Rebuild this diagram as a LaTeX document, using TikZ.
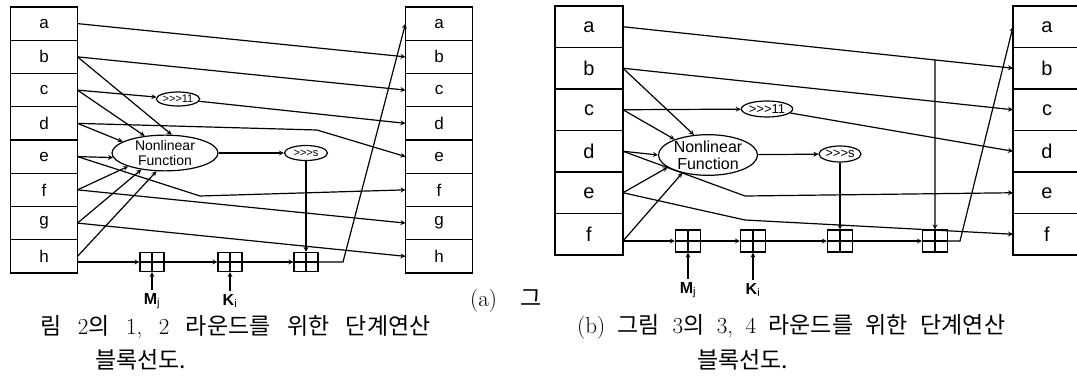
\documentclass[tikz,border=0pt]{standalone}
\usepackage{fontspec}
\setsansfont{Liberation Sans}
\newfontfamily\kr{Noto Sans CJK KR}
\newcommand{\capspace}[1]{\spaceskip #1\relax}
\usepackage{tikz}
\usetikzlibrary{positioning, arrows.meta, calc, shapes.geometric}
\tikzstyle{arrow} = [very thick,->,>=stealth]
\tikzstyle{reg} = [rectangle, draw, very thick, minimum width=67pt, minimum height=33.25pt, outer sep=0pt, node distance=33.25pt, font=\sffamily\fontsize{17}{17}\selectfont]
\tikzstyle{reg2} = [reg, minimum width=68pt, minimum height=41.5pt, node distance=41.5pt, font=\sffamily\fontsize{20}{20}\selectfont]
\tikzstyle{adder} = [rectangle, draw, very thick, minimum width=24pt, minimum height=19pt, inner sep=0pt, path picture={\draw[very thick] (path picture bounding box.north) -- (path picture bounding box.south) (path picture bounding box.west) -- (path picture bounding box.east);}]
\tikzstyle{func} = [ellipse, draw, very thick, inner sep=0pt, align=center, font=\sffamily\fontsize{14}{15}\selectfont]
\tikzstyle{rot} = [ellipse, draw, very thick, inner sep=0pt, font=\sffamily\fontsize{11}{11}\selectfont]
\tikzstyle{keylabel} = [font=\sffamily\bfseries\fontsize{16}{16}\selectfont]
\tikzstyle{captext} = [anchor=west, inner sep=0pt, font=\fontsize{23}{23}\selectfont\capspace{12.5pt}]

\begin{document}
\begin{tikzpicture}[x=1pt, y=-1pt]
        \useasboundingbox (0,0) rectangle (1077,383);

        \node (left_a) [reg] at (44,23.6) {a};
        \node (left_b) [reg, below of=left_a] {b};
        \node (left_c) [reg, below of=left_b] {c};
        \node (left_d) [reg, below of=left_c] {d};
        \node (left_e) [reg, below of=left_d] {e};
        \node (left_f) [reg, below of=left_e] {f};
        \node (left_g) [reg, below of=left_f] {g};
        \node (left_h) [reg, below of=left_g] {h};

        \node (right_a) [reg] at (439,23.6) {a};
        \node (right_b) [reg, below of=right_a] {b};
        \node (right_c) [reg, below of=right_b] {c};
        \node (right_d) [reg, below of=right_c] {d};
        \node (right_e) [reg, below of=right_d] {e};
        \node (right_f) [reg, below of=right_e] {f};
        \node (right_g) [reg, below of=right_f] {g};
        \node (right_h) [reg, below of=right_g] {h};

        \node (nlf) [func, minimum width=106pt, minimum height=35pt] at (165,153) {Nonlinear\\Function};
        \node (rot11) [rot, minimum width=42pt, minimum height=14pt] at (178,99) {>{}>{}>11};
        \node (rots) [rot, minimum width=43pt, minimum height=15pt] at (306,153) {>{}>{}>s};
        \node (add_1) [adder] at (152,262) {};
        \node (add_2) [adder] at (230,262) {};
        \node (add_3) [adder] at (306,262) {};
        \node (key_m) [keylabel] at (152,301) {M$_\mathsf{j}$};
        \node (key_k) [keylabel] at (230,301) {K$_\mathsf{i}$};
        \coordinate (bend_d) at (317,130);
        \coordinate (bend_e) at (200,196);
        \coordinate (bend_h) at (343,262);

        \draw [arrow] (left_a.east) -- (right_b.west);
        \draw [arrow] (left_b.east) -- (right_c.west);
        \draw [arrow] (left_c.east) -- (rot11);
        \draw [arrow] (rot11) -- (right_d.west);
        \draw [arrow] (left_d.east) -- (bend_d) -- (right_e.west);
        \draw [arrow] (left_e.east) -- (bend_e) -- (right_f.west);
        \draw [arrow] (left_f.east) -- (right_g.west);
        \draw [arrow] (left_g.east) -- (right_h.west);
        \draw [arrow] (left_b.east) -- (nlf.70);
        \draw [arrow] (left_c.east) -- (nlf.140);
        \draw [arrow] (left_d.east) -- (nlf.165);
        \draw [arrow] (left_e.east) -- (nlf.185);
        \draw [arrow] (left_f.east) -- (nlf.200);
        \draw [arrow] (left_g.east) -- (nlf.215);
        \draw [arrow] (left_h.east) -- (nlf.245);
        \draw [arrow] (nlf) -- (rots);
        \draw [arrow] (rots) -- (add_3);
        \draw [arrow] (add_1 -| left_h.east) -- (add_1);
        \draw [arrow] (add_1) -- (add_2);
        \draw [arrow] (add_2) -- (add_3);
        \draw [arrow] (add_3) -- (bend_h) -- (right_a.west);
        \draw [arrow] (key_m) -- (add_1);
        \draw [arrow] (key_k) -- (add_2);

        \node (left2_a) [reg2] at (589,26.75) {a};
        \node (left2_b) [reg2, below of=left2_a] {b};
        \node (left2_c) [reg2, below of=left2_b] {c};
        \node (left2_d) [reg2, below of=left2_c] {d};
        \node (left2_e) [reg2, below of=left2_d] {e};
        \node (left2_f) [reg2, below of=left2_e] {f};

        \node (right2_a) [reg2] at (1047,26.75) {a};
        \node (right2_b) [reg2, below of=right2_a] {b};
        \node (right2_c) [reg2, below of=right2_b] {c};
        \node (right2_d) [reg2, below of=right2_c] {d};
        \node (right2_e) [reg2, below of=right2_d] {e};
        \node (right2_f) [reg2, below of=right2_e] {f};

        \node (nlf2) [func, minimum width=99pt, minimum height=40pt, font=\sffamily\fontsize{16}{17}\selectfont] at (708,155) {Nonlinear\\Function};
        \node (rot11_2) [rot, minimum width=47pt, minimum height=16pt, font=\sffamily\fontsize{13}{13}\selectfont] at (767,109) {>{}>{}>11};
        \node (rots_2) [rot, minimum width=42pt, minimum height=16pt, font=\sffamily\fontsize{13}{13}\selectfont] at (840,154) {>{}>{}>s};
        \node (add2_1) [adder, minimum width=25pt, minimum height=22pt] at (688,241) {};
        \node (add2_2) [adder, minimum width=25pt, minimum height=22pt] at (753,241) {};
        \node (add2_3) [adder, minimum width=25pt, minimum height=22pt] at (840,241) {};
        \node (add2_4) [adder, minimum width=25pt, minimum height=22pt] at (935,241) {};
        \node (key2_m) [keylabel] at (688,290) {M$_\mathsf{j}$};
        \node (key2_k) [keylabel] at (753,290) {K$_\mathsf{i}$};
        \coordinate (bend2_d) at (745,196);
        \coordinate (bend2_e) at (745,220);
        \coordinate (bend2_f) at (960,241);

        \draw [arrow] (left2_a.east) -- coordinate[pos=0.8] (tap2) (right2_b.west);
        \draw [arrow] (tap2) -- (add2_4);
        \draw [arrow] (left2_b.east) -- (right2_c.west);
        \draw [arrow] (left2_c.east) -- (rot11_2);
        \draw [arrow] (rot11_2) -- (right2_d.west);
        \draw [arrow] (left2_d.east) -- (bend2_d) -- (right2_e.west);
        \draw [arrow] (left2_e.east) -- (bend2_e) -- (right2_f.west);
        \draw [arrow] (left2_b.east) -- (nlf2.125);
        \draw [arrow] (left2_c.east) -- (nlf2.155);
        \draw [arrow] (left2_d.east) -- (nlf2.180);
        \draw [arrow] (left2_e.east) -- (nlf2.197);
        \draw [arrow] (add2_1 -| left2_f.east) -- (nlf2.215);
        \draw [arrow] (nlf2) -- (rots_2);
        \draw [arrow] (rots_2) -- (add2_3);
        \draw [arrow] (add2_1 -| left2_f.east) -- (add2_1);
        \draw [arrow] (add2_1) -- (add2_2);
        \draw [arrow] (add2_2) -- (add2_3);
        \draw [arrow] (add2_3) -- (add2_4);
        \draw [arrow] (add2_4) -- (bend2_f) -- (right2_a.west);
        \draw [arrow] (key2_m) -- (add2_1);
        \draw [arrow] (key2_k) -- (add2_2);

        \node (cap_a1) [captext] at (470,301) {(a)\quad{\kr 그}};
        \node (cap_a2) [captext, font=\fontsize{23}{23}\selectfont\capspace{16.5pt}] at (40,327) {{\kr 림} 2{\kr 의} 1, 2 {\kr 라운드를} {\kr 위한} {\kr 단계연산}};
        \node (cap_a3) [captext] at (95,360) {{\kr 블록선도.}};
        \node (cap_b1) [captext] at (577,327) {(b) {\kr 그림} 3{\kr 의} 3, 4 {\kr 라운드를} {\kr 위한} {\kr 단계연산}};
        \node (cap_b2) [captext] at (697,360) {{\kr 블록선도.}};
\end{tikzpicture}
\end{document}
